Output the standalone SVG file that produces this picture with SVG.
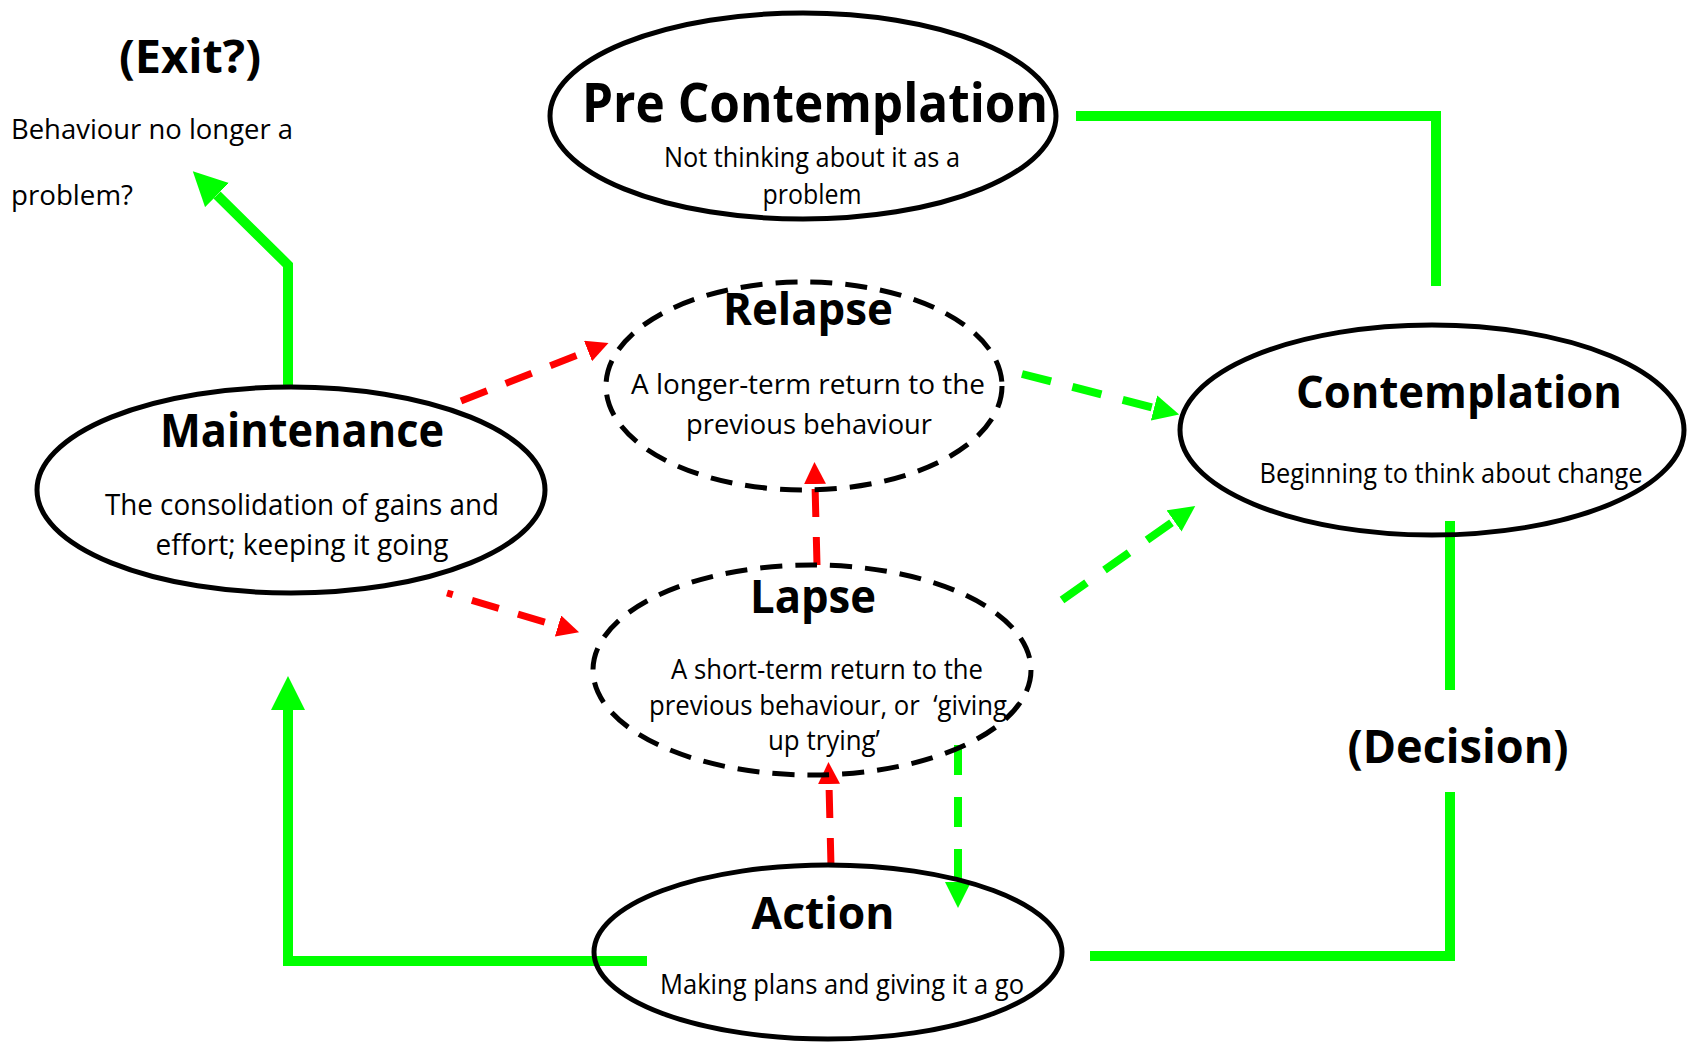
<svg xmlns="http://www.w3.org/2000/svg" width="1690" height="1045" viewBox="0 0 1690 1045">
<style>
.bg{fill:#ffffff}
.node{fill:none;stroke:#000;stroke-width:5}
.dnode{fill:none;stroke:#000;stroke-width:5;stroke-dasharray:22 13}
.t{font-family:"Open Sans","Noto Sans","DejaVu Sans",sans-serif;fill:#000;text-anchor:middle}
.h{font-weight:bold}
.b{font-size:28px}
.ls{text-anchor:start}
.g{fill:none;stroke:#00ff00;stroke-width:10}
.gd{fill:none;stroke:#00ff00;stroke-width:8;stroke-dasharray:30 22}
.rd{fill:none;stroke:#ff0000;stroke-width:7;stroke-dasharray:28 20}
</style>
<defs>
<marker id="rh" markerUnits="userSpaceOnUse" viewBox="0 0 22 22" markerWidth="22" markerHeight="22" refX="0" refY="11" orient="auto"><path d="M0,0 L22,11 L0,22 z" fill="#ff0000"/></marker>
<marker id="gh" markerUnits="userSpaceOnUse" viewBox="0 0 26 26" markerWidth="26" markerHeight="26" refX="0" refY="13" orient="auto"><path d="M0,0 L26,13 L0,26 z" fill="#00ff00"/></marker>
<marker id="gb" markerUnits="userSpaceOnUse" viewBox="0 0 34 34" markerWidth="34" markerHeight="34" refX="0" refY="17" orient="auto"><path d="M0,0 L34,17 L0,34 z" fill="#00ff00"/></marker>
</defs>
<rect class="bg" x="0" y="0" width="1690" height="1045"/>

<g id="connectors">
<path class="g" d="M1076,116 L1436,116 L1436,286"/>
<path class="g" d="M1450,521 L1450,690"/>
<path class="g" d="M1450,792 L1450,956 L1090,956"/>
<path class="g" d="M647,961 L288,961 L288,710" marker-end="url(#gb)"/>
<path class="g" d="M288,387 L288,265 L217,195" marker-end="url(#gb)"/>
<path class="rd" d="M461,401 L588,351" marker-end="url(#rh)"/>
<path class="rd" d="M447,593 L558,626" stroke-dashoffset="22" marker-end="url(#rh)"/>
<path class="rd" d="M817,565 L815,484" marker-end="url(#rh)"/>
<path class="rd" d="M831,866 L829,784" marker-end="url(#rh)"/>
<path class="gd" d="M1022,374 L1154,408" marker-end="url(#gh)"/>
<path class="gd" d="M1062,600 L1174,521" marker-end="url(#gh)"/>
<path class="gd" d="M958,745 L958,882" marker-end="url(#gh)"/>
</g>

<g id="exit">
<text class="t h" x="190" y="73" font-size="46" textLength="142" lengthAdjust="spacingAndGlyphs">(Exit?)</text>
<text class="t b ls" x="11" y="139" textLength="282" lengthAdjust="spacingAndGlyphs">Behaviour no longer a</text>
<text class="t b ls" x="11" y="205" textLength="122" lengthAdjust="spacingAndGlyphs">problem?</text>
</g>

<g id="precontemplation">
<ellipse class="node" cx="803" cy="116" rx="253" ry="103"/>
<text class="t h" x="815" y="122" font-size="54" textLength="466" lengthAdjust="spacingAndGlyphs">Pre Contemplation</text>
<text class="t b" x="812" y="167" textLength="296" lengthAdjust="spacingAndGlyphs">Not thinking about it as a</text>
<text class="t b" x="812" y="204" textLength="99" lengthAdjust="spacingAndGlyphs">problem</text>
</g>

<g id="relapse">
<ellipse class="dnode" cx="804" cy="386" rx="198" ry="104"/>
<text class="t h" x="808" y="325" font-size="44" textLength="170" lengthAdjust="spacingAndGlyphs">Relapse</text>
<text class="t b" x="808" y="394" textLength="354" lengthAdjust="spacingAndGlyphs">A longer-term return to the</text>
<text class="t b" x="809" y="434" textLength="246" lengthAdjust="spacingAndGlyphs">previous behaviour</text>
</g>

<g id="lapse">
<ellipse class="dnode" cx="812" cy="670" rx="219" ry="105"/>
<text class="t h" x="813" y="613" font-size="46" textLength="126" lengthAdjust="spacingAndGlyphs">Lapse</text>
<text class="t b" x="827" y="679" textLength="312" lengthAdjust="spacingAndGlyphs">A short-term return to the</text>
<text class="t b" x="828" y="715" textLength="358" lengthAdjust="spacingAndGlyphs" style="white-space:pre">previous behaviour, or  ‘giving</text>
<text class="t b" x="824" y="750" textLength="112" lengthAdjust="spacingAndGlyphs">up trying’</text>
</g>

<g id="action">
<ellipse class="node" cx="828" cy="952" rx="234" ry="87"/>
<text class="t h" x="823" y="929" font-size="45" textLength="143" lengthAdjust="spacingAndGlyphs">Action</text>
<text class="t b" x="842" y="994" textLength="364" lengthAdjust="spacingAndGlyphs">Making plans and giving it a go</text>
</g>

<g id="maintenance">
<ellipse class="node" cx="291" cy="490" rx="254" ry="103"/>
<text class="t h" x="302" y="447" font-size="46" textLength="284" lengthAdjust="spacingAndGlyphs">Maintenance</text>
<text class="t" x="302" y="515" font-size="30" textLength="394" lengthAdjust="spacingAndGlyphs">The consolidation of gains and</text>
<text class="t" x="302" y="555" font-size="30" textLength="293" lengthAdjust="spacingAndGlyphs">effort; keeping it going</text>
</g>

<g id="contemplation">
<ellipse class="node" cx="1432" cy="430" rx="252" ry="105"/>
<text class="t h" x="1459" y="408" font-size="44" textLength="326" lengthAdjust="spacingAndGlyphs">Contemplation</text>
<text class="t b" x="1451" y="483" textLength="383" lengthAdjust="spacingAndGlyphs">Beginning to think about change</text>
</g>

<g id="decision">
<text class="t h" x="1458" y="763" font-size="46" textLength="221" lengthAdjust="spacingAndGlyphs">(Decision)</text>
</g>
</svg>
